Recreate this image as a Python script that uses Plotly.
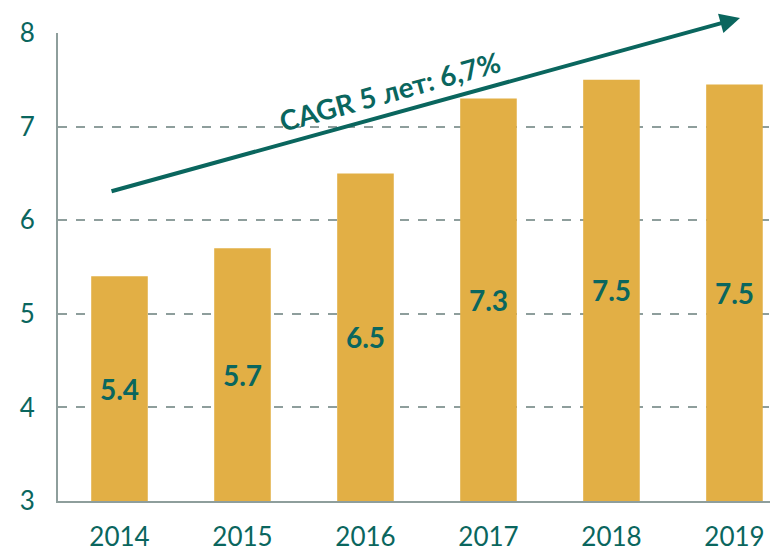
import plotly.graph_objects as go

years = ["2014", "2015", "2016", "2017", "2018", "2019"]
values = [5.4, 5.7, 6.5, 7.3, 7.5, 7.45]
labels = ["5.4", "5.7", "6.5", "7.3", "7.5", "7.5"]
y_ticks = [3, 4, 5, 6, 7, 8]
axis_min = 3
cagr_text = "CAGR 5 лет: 6,7%"

teal = "#0A665E"
gold = "#E2AF45"
grid = "#8E9E9C"
font = "Lato, 'Open Sans', sans-serif"

fig = go.Figure()
fig.add_trace(go.Bar(
    x=list(range(len(years))), y=[v - axis_min for v in values], base=axis_min,
    marker=dict(color=gold, line=dict(width=0)),
    width=0.46,
    text=labels, textposition="inside", insidetextanchor="middle",
    textfont=dict(family=font, size=28, color=teal, weight="bold"),
    textangle=0,
))

fig.add_annotation(
    x=5.045, y=8.16, ax=-0.077, ay=6.305,
    xref="x", yref="y", axref="x", ayref="y",
    showarrow=True, arrowhead=2, arrowsize=1.0, arrowwidth=4,
    arrowcolor=teal, text="",
)
fig.add_annotation(
    x=2.2, y=7.38, xref="x", yref="y", text=cagr_text,
    showarrow=False, textangle=-15.5,
    font=dict(family=font, size=28, color=teal, weight="bold"),
)

fig.update_layout(
    width=778, height=552,
    margin=dict(l=50, r=8, t=23, b=57),
    plot_bgcolor="white", paper_bgcolor="white",
    showlegend=False,
    xaxis=dict(
        tickmode="array", tickvals=list(range(len(years))), ticktext=years,
        range=[-0.5, 5.354], showgrid=False, zeroline=False,
        showline=True, linecolor=grid, linewidth=2,
        tickfont=dict(family=font, size=26, color=teal),
        ticks="", ticklabelstandoff=12,
    ),
    yaxis=dict(
        range=[3, 8], tickvals=y_ticks, showgrid=True,
        gridcolor=grid, griddash="dash", gridwidth=1.5,
        zeroline=False, showline=True, linecolor=grid, linewidth=2,
        tickfont=dict(family=font, size=26, color=teal),
        ticks="", ticklabelstandoff=16,
    ),
)

fig.write_html("out.html")
